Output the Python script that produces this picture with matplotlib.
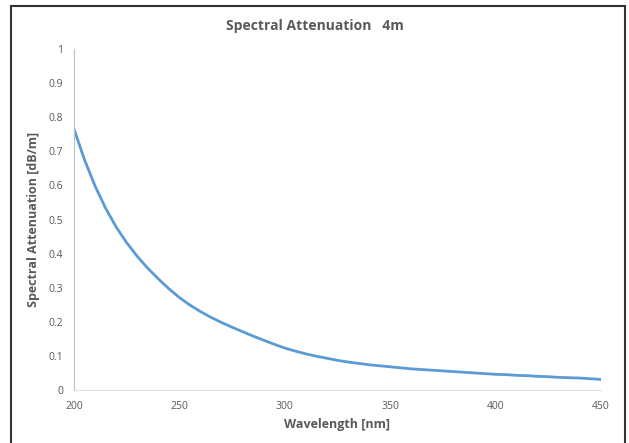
import matplotlib.pyplot as plt
from matplotlib.patches import Rectangle

# Значения (шаг 5 нм)
wavelength = [200, 205, 210, 215, 220, 225, 230, 235, 240, 245,
              250, 255, 260, 265, 270, 275, 280, 285, 290, 295,
              300, 305, 310, 315, 320, 325, 330, 335, 340, 345,
              350, 355, 360, 365, 370, 375, 380, 385, 390, 395,
              400, 405, 410, 415, 420, 425, 430, 435, 440, 445, 450]
attenuation = [0.765, 0.675, 0.598, 0.533, 0.478, 0.432, 0.392, 0.357, 0.326, 0.297,
               0.271, 0.249, 0.230, 0.213, 0.198, 0.184, 0.171, 0.158, 0.146, 0.134,
               0.123, 0.114, 0.106, 0.099, 0.093, 0.087, 0.082, 0.078, 0.074, 0.071,
               0.068, 0.065, 0.062, 0.060, 0.058, 0.056, 0.054, 0.052, 0.050, 0.048,
               0.046, 0.045, 0.043, 0.042, 0.040, 0.039, 0.037, 0.036, 0.035, 0.033, 0.031]

x_ticks = [200, 250, 300, 350, 400, 450]
y_ticks = [0, 0.1, 0.2, 0.3, 0.4, 0.5, 0.6, 0.7, 0.8, 0.9, 1]
y_tick_labels = ['0', '0.1', '0.2', '0.3', '0.4', '0.5', '0.6', '0.7', '0.8', '0.9', '1']

plt.rcParams['font.family'] = ['Open Sans', 'DejaVu Sans']
grey = '#595959'

fig = plt.figure(figsize=(6.29, 4.43), dpi=100)
ax = fig.add_axes([74 / 629, 1 - 390 / 443, 527 / 629, 341 / 443])

ax.plot(wavelength, attenuation, color='#5B9BD5', linewidth=2)

ax.set_xlim(200, 450)
ax.set_ylim(0, 1)
ax.set_xticks(x_ticks)
ax.set_yticks(y_ticks)
ax.set_yticklabels(y_tick_labels)
ax.tick_params(length=0, labelsize=7.5, labelcolor=grey, pad=8)

for side in ['top', 'right']:
    ax.spines[side].set_visible(False)
ax.spines['left'].set_color('#BFBFBF')
ax.spines['bottom'].set_color('#E0E0E0')

ax.set_xlabel('Wavelength [nm]', fontsize=9, fontweight='bold', color=grey, labelpad=4)
ax.set_ylabel('Spectral Attenuation [dB/m]', fontsize=9, fontweight='bold', color=grey, labelpad=6)
fig.text(0.5, 1 - 26 / 443, 'Spectral Attenuation   4m', ha='center', va='center',
         fontsize=10, fontweight='bold', color=grey)

# рамка вокруг рисунка
fig.patches.append(Rectangle((11 / 629, -0.01), 614 / 629, 1 - 6 / 443 + 0.01,
                             transform=fig.transFigure, fill=False,
                             edgecolor='#333333', linewidth=1.5))

plt.savefig('out.png', dpi=100)
